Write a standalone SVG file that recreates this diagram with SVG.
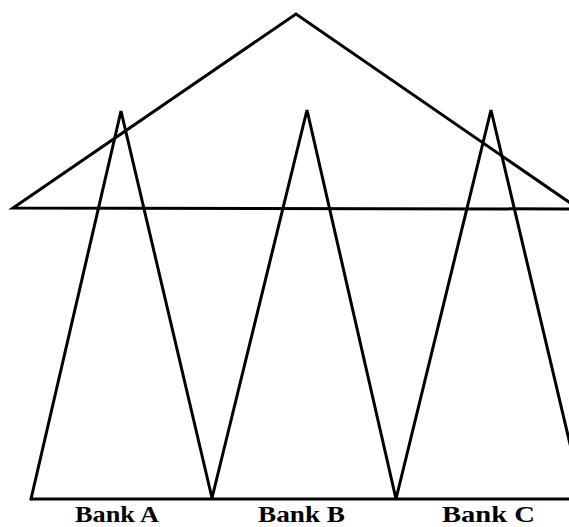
<svg xmlns="http://www.w3.org/2000/svg" width="569" height="527" viewBox="0 0 569 527">
<style>
.ln{fill:none;stroke:#000;stroke-width:3;stroke-linejoin:miter;stroke-linecap:round}
.lbl{font-family:"Liberation Serif","Times New Roman",serif;font-weight:bold;font-size:24px;fill:#000}
</style>
<rect width="569" height="527" fill="#fff"/>
<g id="connectors">
<g id="roof"><polyline class="ln" points="579,209 296,14 13,208 580,209"/></g>
<g id="zigzag"><polyline class="ln" points="31,499 121,111 212,498 307,110 396,499 491,110 583,499"/></g>
<g id="base"><line class="ln" x1="31" y1="499" x2="575" y2="499"/></g>
</g>
<g id="bankA"><text class="lbl" x="75" y="522" textLength="84" lengthAdjust="spacingAndGlyphs">Bank A</text></g>
<g id="bankB"><text class="lbl" x="258" y="522" textLength="87" lengthAdjust="spacingAndGlyphs">Bank B</text></g>
<g id="bankC"><text class="lbl" x="442" y="522" textLength="93" lengthAdjust="spacingAndGlyphs">Bank C</text></g>
</svg>
